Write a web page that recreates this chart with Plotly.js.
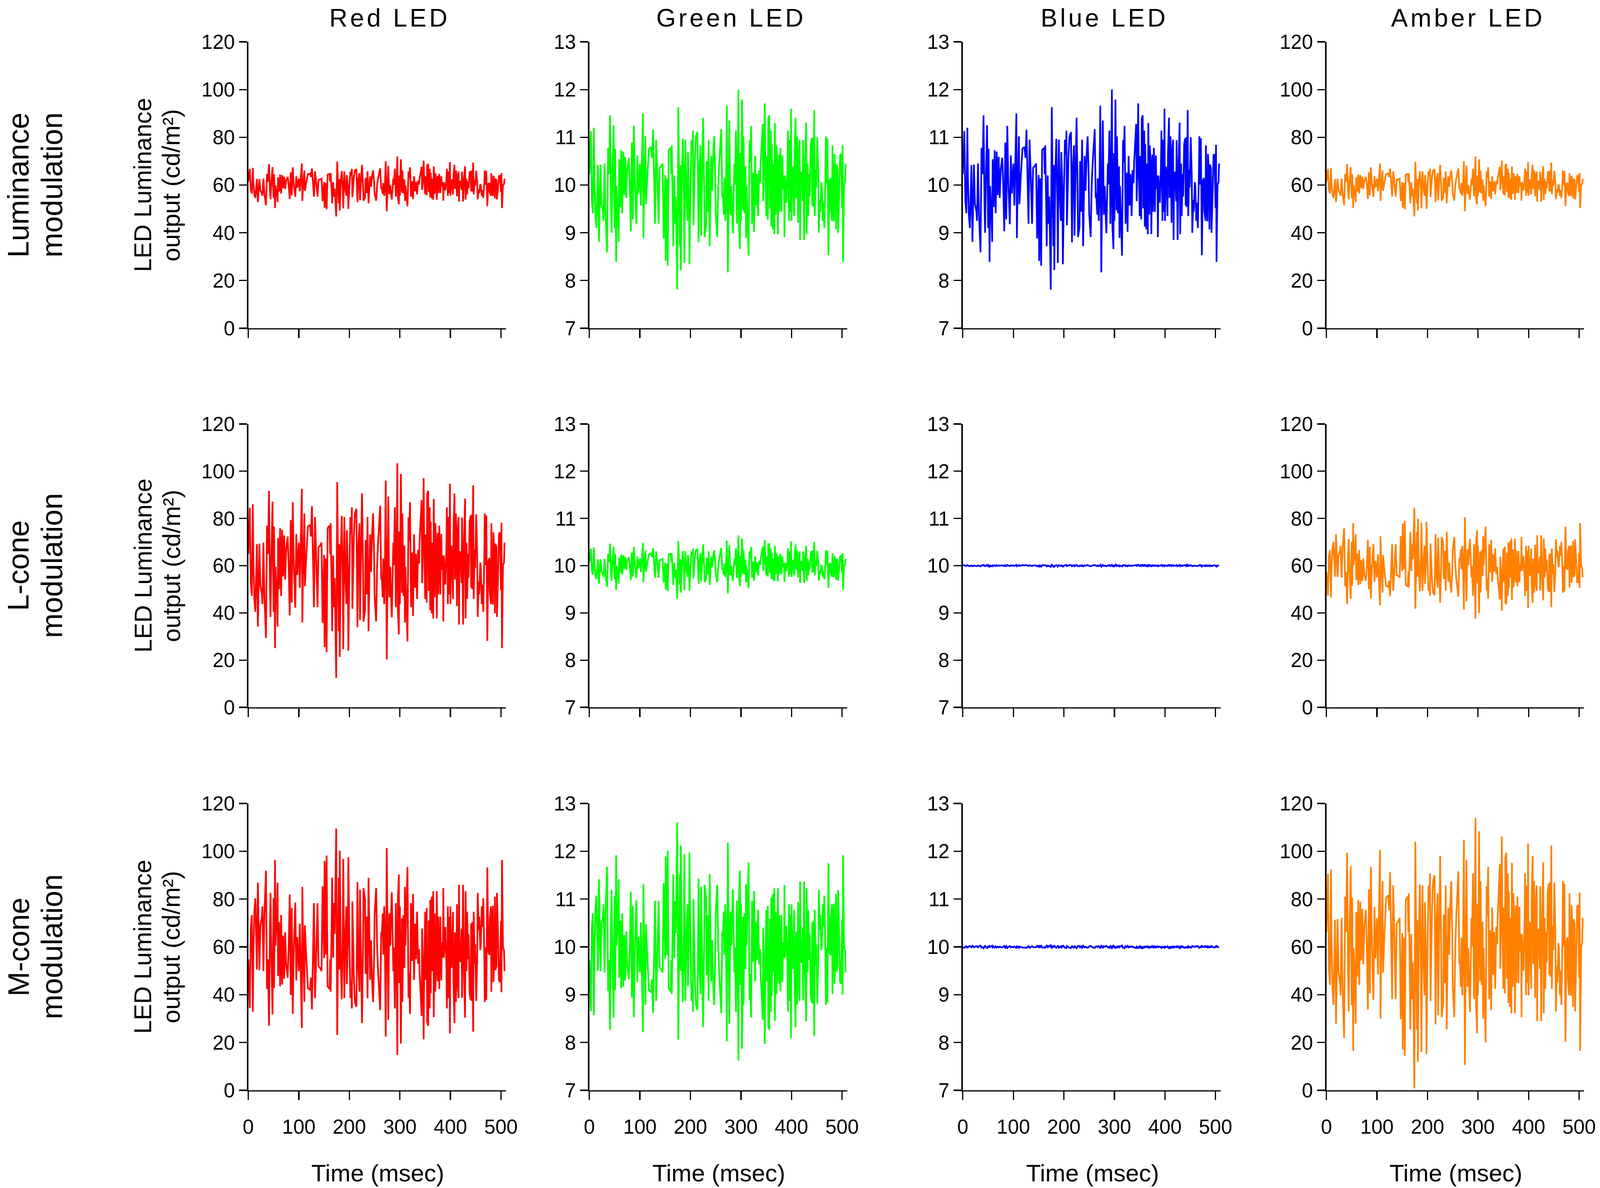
<!DOCTYPE html>
<html>
<head>
<meta charset="utf-8">
<script src="https://cdn.plot.ly/plotly-3.0.1.min.js"></script>
<style>
  html, body { margin: 0; padding: 0; background: #fff; overflow: hidden; }
</style>
</head>
<body>
<div id="chart"></div>
<script>
// ---------- DATA ----------
// all panels show the same noise sequence, scaled per LED / modulation.
// sequence (cd/m2)
const TIME_MS = [
  0,3,5,7,9,10,12,14,17,19,
  22,24,27,28,30,32,35,37,39,41,
  43,44,46,48,50,51,53,54,57,58,
  59,61,63,65,67,69,71,73,75,78,
  80,82,84,86,88,90,93,95,97,100,
  102,104,106,107,108,111,112,115,118,122,
  124,126,129,130,132,134,137,139,142,145,
  147,149,150,151,153,155,157,159,161,162,
  163,165,166,168,169,171,174,176,178,179,
  180,181,183,185,187,188,190,192,194,195,
  197,198,200,202,204,205,206,209,211,214,
  216,218,220,221,223,225,227,228,231,232,
  234,236,238,239,241,243,245,247,249,250,
  253,255,
  257,261,263,264,266,267,269,270,272,274,
  276,277,279,281,283,284,287,288,290,292,
  293,295,296,298,299,300,302,304,305,307,
  309,310,311,313,315,317,318,320,322,324,
  325,326,328,330,332,334,336,338,339,341,
  343,344,346,347,348,350,351,353,354,356,
  357,359,360,361,363,364,366,367,369,370,
  372,373,375,376,378,380,382,383,385,386,
  387,390,392,393,395,396,398,399,400,402,
  404,405,406,408,409,411,413,414,416,417,
  418,420,422,423,425,427,429,430,432,433,
  435,436,438,440,441,442,443,445,446,448,
  449,451,453,454,456,457,459,460,462,463,
  465,467,468,470,471,473,475,477,478,480,
  481,482,484,485,487,488,489,491,492,494,
  496,498,500,501,502,504,506,507
];

const LUM_GREEN = [
  10.23,11.13,9.66,9.41,11.2,10.2,9.35,9.1,10.42,8.81,
  10.43,9.6,9.44,9.25,10.45,9.38,8.59,10.78,10.23,11.46,
  9.54,9.0,10.32,11.25,9.1,10.76,8.39,9.98,9.25,8.81,
  10.54,9.54,10.73,9.41,10.7,9.79,10.59,9.73,10.32,10.57,
  9.98,9.03,10.89,9.28,11.24,10.07,9.18,10.62,9.82,10.45,
  9.57,10.64,11.5,8.89,9.63,11.02,9.6,10.23,10.76,10.8,
  10.57,11.16,9.92,9.19,10.95,10.36,9.19,10.36,10.39,10.45,
  8.88,9.79,10.21,8.41,10.14,8.31,10.73,10.76,10.78,10.23,
  10.83,9.57,8.72,10.2,9.19,9.76,7.81,11.63,9.25,8.72,
  10.42,8.22,10.2,10.97,9.66,8.37,10.95,9.79,9.25,10.69,
  9.88,8.34,9.84,10.95,10.64,11.14,9.16,10.57,11.02,11.11,
  8.8,10.42,10.83,8.94,10.14,11.41,10.04,8.91,9.13,10.5,
  9.44,10.95,8.72,9.44,10.61,9.88,10.64,11.02,10.2,9.41,
  8.91,10.01,
  10.48,11.17,9.73,9.82,9.38,10.14,9.25,9.63,11.66,8.17,
  9.88,11.35,9.38,9.98,9.25,8.99,10.45,10.01,11.14,9.19,
  9.95,12.0,9.13,8.66,10.67,9.25,11.79,9.47,11.02,9.41,
  10.39,8.89,9.98,9.25,8.52,10.94,10.48,11.24,9.19,10.26,
  9.69,9.02,10.61,9.57,10.23,9.35,10.31,10.04,10.48,10.83,
  11.28,9.66,10.51,11.71,10.51,9.35,10.61,9.28,11.39,11.46,
  9.51,11.14,9.13,10.86,9.07,10.45,8.97,11.3,9.38,10.83,
  10.39,8.97,10.64,9.44,10.78,9.44,10.62,9.92,10.2,8.91,
  10.2,9.63,10.39,11.14,9.25,10.95,9.44,11.6,9.25,10.39,
  9.95,9.35,10.67,11.41,9.73,11.02,9.21,10.64,10.95,8.85,
  10.2,10.28,9.66,10.94,8.85,10.51,11.31,8.97,10.45,9.35,
  10.23,9.76,10.86,10.98,9.57,11.0,9.54,11.57,9.35,10.32,
  9.95,11.0,10.2,9.0,9.69,9.44,10.06,9.98,9.25,9.63,
  9.1,10.15,11.02,10.01,10.98,8.53,10.09,10.15,9.47,9.25,
  10.83,9.63,9.24,10.65,10.23,9.07,10.43,10.36,9.0,9.69,
  10.62,10.65,9.52,10.84,8.39,10.01,10.06,10.45
];
const LUM_GREEN_MEAN = 10;

const LEDS = ["Red LED", "Green LED", "Blue LED", "Amber LED"];
const LED_COLORS = ["#ff0000", "#00ff00", "#0000ff", "#ff8000"];
const LED_MEANS = [60, 10, 10, 60];              // cd/m2
const MODULATIONS = [["Luminance", "modulation"], ["L-cone", "modulation"], ["M-cone", "modulation"]];
const Y_TITLE = ["LED Luminance", "output (cd/m²)"];
// contrast of each LED relative to the read sequence (rows = modulation)
const GAINS = [
  [6, 1, 1, 6],
  [21.7, 0.32, 0.012, -11.2],
  [-22.6, -1.19, -0.02, 27]
];
const Y_RANGES = [[0, 120], [7, 13], [7, 13], [0, 120]];
const Y_TICKS = [
  [0, 20, 40, 60, 80, 100, 120],
  [7, 8, 9, 10, 11, 12, 13],
  [7, 8, 9, 10, 11, 12, 13],
  [0, 20, 40, 60, 80, 100, 120]
];
const X_TICKS = [0, 100, 200, 300, 400, 500];
const X_RANGE = [0, 510];

// ---------- LAYOUT ----------
// measured on a 4550 x 3040 frame, then stretched to fill the viewport
const W = 4550, H = 3040;
const VW = window.innerWidth || W, VH = window.innerHeight || H;
const SX = VW / W, SY = VH / H;
const FS = Math.sqrt(SX * SY);           // font / stroke scale

const FONT = "Arial, 'Liberation Sans', sans-serif";
const colPx = [[706, 1439], [1676, 2409], [2738, 3471], [3772, 4505]];
const rowPx = [[107, 840], [1085, 1810], [2056, 2790]];
const colDom = colPx.map(c => [c[0] / W, c[1] / W]);
const rowDom = rowPx.map(r => [1 - r[1] / H, 1 - r[0] / H]);

function baseAxis(len) {
  return {
    showline: true, linecolor: "#000", linewidth: 3.5 * FS,
    ticks: "outside", ticklen: len, tickwidth: 3.5 * FS, tickcolor: "#000",
    showgrid: false, zeroline: false, fixedrange: true,
    tickfont: { family: FONT, size: 54 * FS, color: "#000" }
  };
}

const traces = [];
const layout = {
  width: VW, height: VH,
  margin: { l: 0, r: 0, t: 0, b: 0 },
  paper_bgcolor: "#fff", plot_bgcolor: "#fff",
  showlegend: false,
  annotations: []
};

for (let r = 0; r < 3; r++) {
  for (let c = 0; c < 4; c++) {
    const k = r * 4 + c + 1;
    const sfx = k === 1 ? "" : String(k);

    traces.push({
      x: TIME_MS,
      y: LUM_GREEN.map(v => LED_MEANS[c] + GAINS[r][c] * (v - LUM_GREEN_MEAN)),
      xaxis: "x" + sfx, yaxis: "y" + sfx,
      type: "scatter", mode: "lines",
      line: { color: LED_COLORS[c], width: 4.5 * FS },
      hoverinfo: "skip"
    });

    layout["xaxis" + sfx] = Object.assign(baseAxis(22 * SY), {
      domain: colDom[c], anchor: "y" + sfx,
      range: X_RANGE, tickvals: X_TICKS,
      showticklabels: r === 2, ticklabelstandoff: 24 * SY,
      ticklabeloverflow: "allow"
    });
    layout["yaxis" + sfx] = Object.assign(baseAxis(23 * SX), {
      domain: rowDom[r], anchor: "x" + sfx,
      range: Y_RANGES[c], tickvals: Y_TICKS[c],
      ticklabelstandoff: 22 * SX
    });
  }
}

function note(text, xpx, ypx, size, angle) {
  layout.annotations.push({
    text: text, xref: "paper", yref: "paper",
    x: xpx / W, y: 1 - ypx / H,
    xanchor: "center", yanchor: "middle",
    showarrow: false, textangle: angle || 0,
    font: { family: FONT, size: size * FS, color: "#000" }
  });
}

// column headers and x titles
LEDS.forEach((name, c) => {
  const mid = (colPx[c][0] + colPx[c][1]) / 2;
  note(name, mid + 36, 46, 68);
  note("Time (msec)", mid + 2, 3001, 65);
});

// row labels and y title (first column only), one annotation per line
MODULATIONS.forEach((lines, r) => {
  const mid = (rowPx[r][0] + rowPx[r][1]) / 2;
  note(lines[0], 52, mid, 80, -90);
  note(lines[1], 147, mid, 80, -90);
  note(Y_TITLE[0], 406, mid, 66, -90);
  note(Y_TITLE[1], 487, mid, 66, -90);
});

// column headers are drawn a little letter-spaced in the original
const css = document.createElement("style");
css.textContent = '.annotation-text[data-unformatted$=" LED"] { letter-spacing: ' + (7.5 * SX) + 'px; }';
document.head.appendChild(css);

Plotly.newPlot("chart", traces, layout, { staticPlot: true, displayModeBar: false });
</script>
</body>
</html>
